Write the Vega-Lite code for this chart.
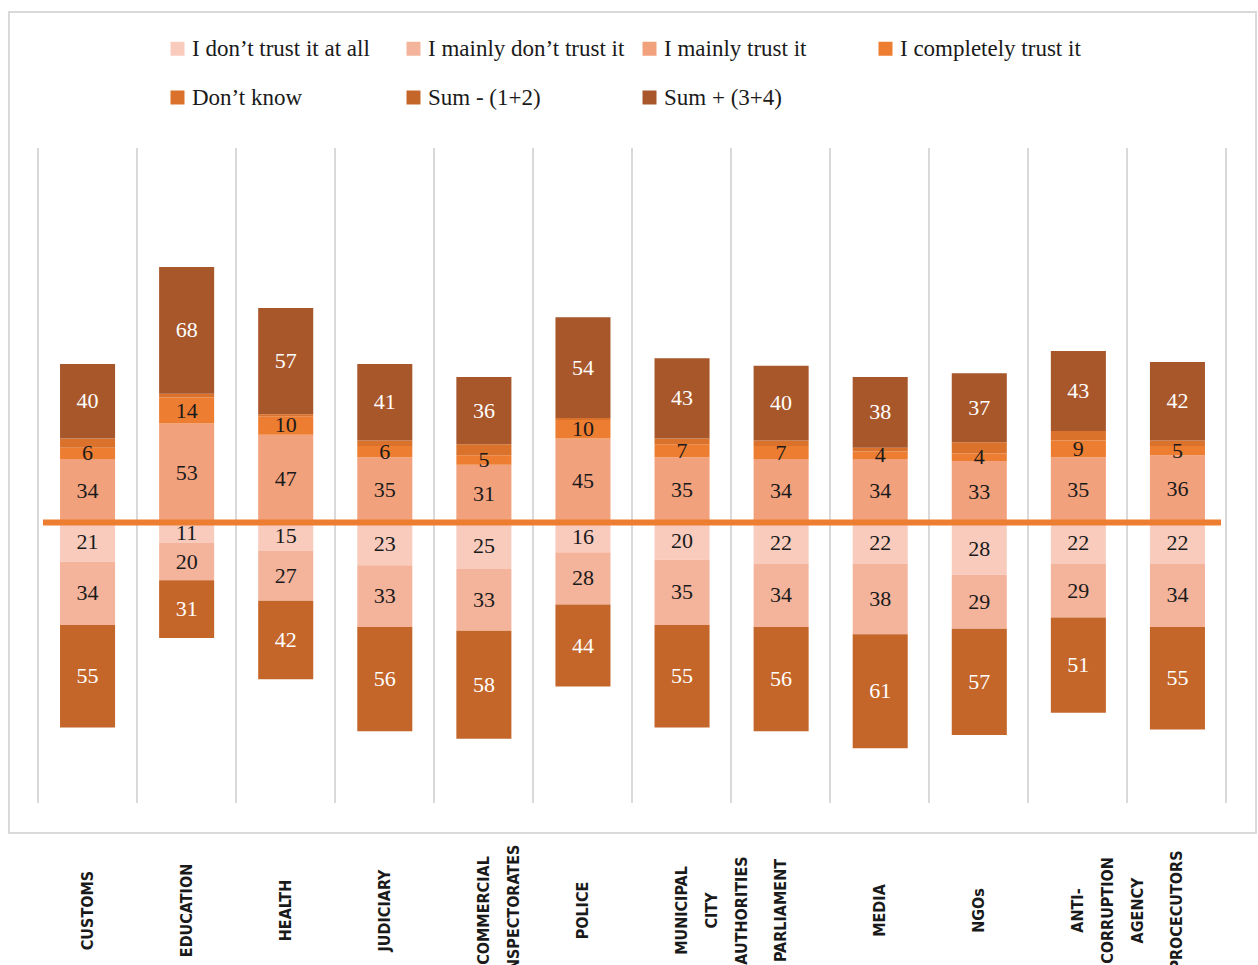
{
 "$schema": "https://vega.github.io/schema/vega-lite/v6.json",
 "width": 1247, "height": 821,
 "autosize": {"type": "none"},
 "padding": {"left": 9, "top": 12, "right": 2, "bottom": 132},
 "background": "white",
 "config": {"view": {"stroke": "#d9d9d9", "strokeWidth": 2}},
 "datasets": {
  "grid": [{"b":0},{"b":1},{"b":2},{"b":3},{"b":4},{"b":5},{"b":6},{"b":7},{"b":8},{"b":9},{"b":10},{"b":11},{"b":12}],
  "main": [
   {"cat":"CUSTOMS","s":"I don’t trust it at all","v":-21},
   {"cat":"CUSTOMS","s":"I mainly don’t trust it","v":-34},
   {"cat":"CUSTOMS","s":"I mainly trust it","v":34},
   {"cat":"CUSTOMS","s":"I completely trust it","v":6},
   {"cat":"CUSTOMS","s":"Don’t know","v":5},
   {"cat":"CUSTOMS","s":"Sum - (1+2)","v":-55},
   {"cat":"CUSTOMS","s":"Sum + (3+4)","v":40},
   {"cat":"EDUCATION","s":"I don’t trust it at all","v":-11},
   {"cat":"EDUCATION","s":"I mainly don’t trust it","v":-20},
   {"cat":"EDUCATION","s":"I mainly trust it","v":53},
   {"cat":"EDUCATION","s":"I completely trust it","v":14},
   {"cat":"EDUCATION","s":"Don’t know","v":2},
   {"cat":"EDUCATION","s":"Sum - (1+2)","v":-31},
   {"cat":"EDUCATION","s":"Sum + (3+4)","v":68},
   {"cat":"HEALTH","s":"I don’t trust it at all","v":-15},
   {"cat":"HEALTH","s":"I mainly don’t trust it","v":-27},
   {"cat":"HEALTH","s":"I mainly trust it","v":47},
   {"cat":"HEALTH","s":"I completely trust it","v":10},
   {"cat":"HEALTH","s":"Don’t know","v":1},
   {"cat":"HEALTH","s":"Sum - (1+2)","v":-42},
   {"cat":"HEALTH","s":"Sum + (3+4)","v":57},
   {"cat":"JUDICIARY","s":"I don’t trust it at all","v":-23},
   {"cat":"JUDICIARY","s":"I mainly don’t trust it","v":-33},
   {"cat":"JUDICIARY","s":"I mainly trust it","v":35},
   {"cat":"JUDICIARY","s":"I completely trust it","v":6},
   {"cat":"JUDICIARY","s":"Don’t know","v":3},
   {"cat":"JUDICIARY","s":"Sum - (1+2)","v":-56},
   {"cat":"JUDICIARY","s":"Sum + (3+4)","v":41},
   {"cat":"COMMERCIAL INSPECTORATES","s":"I don’t trust it at all","v":-25},
   {"cat":"COMMERCIAL INSPECTORATES","s":"I mainly don’t trust it","v":-33},
   {"cat":"COMMERCIAL INSPECTORATES","s":"I mainly trust it","v":31},
   {"cat":"COMMERCIAL INSPECTORATES","s":"I completely trust it","v":5},
   {"cat":"COMMERCIAL INSPECTORATES","s":"Don’t know","v":6},
   {"cat":"COMMERCIAL INSPECTORATES","s":"Sum - (1+2)","v":-58},
   {"cat":"COMMERCIAL INSPECTORATES","s":"Sum + (3+4)","v":36},
   {"cat":"POLICE","s":"I don’t trust it at all","v":-16},
   {"cat":"POLICE","s":"I mainly don’t trust it","v":-28},
   {"cat":"POLICE","s":"I mainly trust it","v":45},
   {"cat":"POLICE","s":"I completely trust it","v":10},
   {"cat":"POLICE","s":"Don’t know","v":1},
   {"cat":"POLICE","s":"Sum - (1+2)","v":-44},
   {"cat":"POLICE","s":"Sum + (3+4)","v":54},
   {"cat":"MUNICIPAL CITY AUTHORITIES","s":"I don’t trust it at all","v":-20},
   {"cat":"MUNICIPAL CITY AUTHORITIES","s":"I mainly don’t trust it","v":-35},
   {"cat":"MUNICIPAL CITY AUTHORITIES","s":"I mainly trust it","v":35},
   {"cat":"MUNICIPAL CITY AUTHORITIES","s":"I completely trust it","v":7},
   {"cat":"MUNICIPAL CITY AUTHORITIES","s":"Don’t know","v":3},
   {"cat":"MUNICIPAL CITY AUTHORITIES","s":"Sum - (1+2)","v":-55},
   {"cat":"MUNICIPAL CITY AUTHORITIES","s":"Sum + (3+4)","v":43},
   {"cat":"PARLIAMENT","s":"I don’t trust it at all","v":-22},
   {"cat":"PARLIAMENT","s":"I mainly don’t trust it","v":-34},
   {"cat":"PARLIAMENT","s":"I mainly trust it","v":34},
   {"cat":"PARLIAMENT","s":"I completely trust it","v":7},
   {"cat":"PARLIAMENT","s":"Don’t know","v":3},
   {"cat":"PARLIAMENT","s":"Sum - (1+2)","v":-56},
   {"cat":"PARLIAMENT","s":"Sum + (3+4)","v":40},
   {"cat":"MEDIA","s":"I don’t trust it at all","v":-22},
   {"cat":"MEDIA","s":"I mainly don’t trust it","v":-38},
   {"cat":"MEDIA","s":"I mainly trust it","v":34},
   {"cat":"MEDIA","s":"I completely trust it","v":4},
   {"cat":"MEDIA","s":"Don’t know","v":2},
   {"cat":"MEDIA","s":"Sum - (1+2)","v":-61},
   {"cat":"MEDIA","s":"Sum + (3+4)","v":38},
   {"cat":"NGOs","s":"I don’t trust it at all","v":-28},
   {"cat":"NGOs","s":"I mainly don’t trust it","v":-29},
   {"cat":"NGOs","s":"I mainly trust it","v":33},
   {"cat":"NGOs","s":"I completely trust it","v":4},
   {"cat":"NGOs","s":"Don’t know","v":6},
   {"cat":"NGOs","s":"Sum - (1+2)","v":-57},
   {"cat":"NGOs","s":"Sum + (3+4)","v":37},
   {"cat":"ANTI-CORRUPTION AGENCY","s":"I don’t trust it at all","v":-22},
   {"cat":"ANTI-CORRUPTION AGENCY","s":"I mainly don’t trust it","v":-29},
   {"cat":"ANTI-CORRUPTION AGENCY","s":"I mainly trust it","v":35},
   {"cat":"ANTI-CORRUPTION AGENCY","s":"I completely trust it","v":9},
   {"cat":"ANTI-CORRUPTION AGENCY","s":"Don’t know","v":5},
   {"cat":"ANTI-CORRUPTION AGENCY","s":"Sum - (1+2)","v":-51},
   {"cat":"ANTI-CORRUPTION AGENCY","s":"Sum + (3+4)","v":43},
   {"cat":"PROCECUTORS","s":"I don’t trust it at all","v":-22},
   {"cat":"PROCECUTORS","s":"I mainly don’t trust it","v":-34},
   {"cat":"PROCECUTORS","s":"I mainly trust it","v":36},
   {"cat":"PROCECUTORS","s":"I completely trust it","v":5},
   {"cat":"PROCECUTORS","s":"Don’t know","v":3},
   {"cat":"PROCECUTORS","s":"Sum - (1+2)","v":-55},
   {"cat":"PROCECUTORS","s":"Sum + (3+4)","v":42}
  ]
 },
 "layer": [
  {
   "data": {"name": "grid"},
   "mark": {"type": "rule", "color": "#d9d9d9", "strokeWidth": 2},
   "encoding": {
    "x": {"field": "b", "type": "quantitative", "scale": {"domain": [-0.2929, 12.303], "nice": false, "zero": false}, "axis": null},
    "y": {"datum": 200.8, "type": "quantitative", "scale": {"domain": [-166.5, 273.7], "nice": false, "zero": false}, "axis": null},
    "y2": {"datum": -150.4}
   }
  },
  {
   "data": {"name": "main"},
   "transform": [
    {"calculate": "indexof(['I don’t trust it at all','I mainly don’t trust it','Sum - (1+2)','I mainly trust it','I completely trust it','Don’t know','Sum + (3+4)'], datum.s)", "as": "ord"},
    {"stack": "v", "groupby": ["cat"], "sort": [{"field": "ord", "order": "ascending"}], "as": ["y0", "y1"], "offset": "zero"}
   ],
   "mark": {"type": "bar"},
   "encoding": {
    "x": {"field": "cat", "type": "nominal", "sort": null,
     "scale": {"type": "band", "paddingInner": 0.4444, "paddingOuter": 0.515},
     "axis": {"title": null, "domain": false, "ticks": false, "grid": false, "labelAngle": 270, "labelAlign": "center", "labelBaseline": "middle", "labelPadding": 77, "labelFont": "DejaVu Sans Condensed", "labelFontWeight": "bold", "labelFontSize": 16, "labelLineHeight": 30, "labelColor": "#1a1a1a", "labelLimit": 0, "labelOverlap": false,
      "labelExpr": "split(replace(datum.label, '-', '- '), ' ')"}},
    "y": {"field": "y0", "type": "quantitative", "scale": {"domain": [-166.5, 273.7], "nice": false, "zero": false}, "axis": null},
    "y2": {"field": "y1"},
    "color": {"field": "s", "type": "nominal",
     "scale": {"domain": ["I don’t trust it at all","I mainly don’t trust it","I mainly trust it","I completely trust it","Don’t know","Sum - (1+2)","Sum + (3+4)"],
       "range": ["#F8CBBD","#F4B49C","#F2A17D","#ED7D31","#DA722C","#C4662A","#A8572A"]},
     "legend": {"title": null, "orient": "none", "legendX": 157, "legendY": 25, "direction": "horizontal", "columns": 4, "gridAlign": "all", "columnPadding": 13, "rowPadding": 25, "padding": 0, "symbolType": "square", "symbolSize": 196, "symbolStrokeWidth": 0, "labelFont": "Liberation Serif", "labelFontSize": 23, "labelColor": "#1a1a1a", "labelOffset": 3, "labelLimit": 400}}
   }
  },
  {
   "data": {"values": [{}]},
   "mark": {"type": "rule", "color": "#ED7D31", "strokeWidth": 6},
   "encoding": {
    "x": {"datum": 0.05, "type": "quantitative", "scale": {"domain": [-0.2929, 12.303], "nice": false, "zero": false}, "axis": null},
    "x2": {"datum": 11.95},
    "y": {"datum": 0, "type": "quantitative", "scale": {"domain": [-166.5, 273.7], "nice": false, "zero": false}, "axis": null}
   }
  },
  {
   "data": {"name": "main"},
   "transform": [
    {"calculate": "indexof(['I don’t trust it at all','I mainly don’t trust it','Sum - (1+2)','I mainly trust it','I completely trust it','Don’t know','Sum + (3+4)'], datum.s)", "as": "ord"},
    {"stack": "v", "groupby": ["cat"], "sort": [{"field": "ord", "order": "ascending"}], "as": ["y0", "y1"], "offset": "zero"},
    {"filter": "datum.s !== 'Don’t know'"},
    {"calculate": "(datum.y0 + datum.y1) / 2", "as": "ym"},
    {"calculate": "abs(datum.v)", "as": "lab"}
   ],
   "mark": {"type": "text", "font": "Liberation Serif", "fontSize": 22, "align": "center", "baseline": "middle"},
   "encoding": {
    "x": {"field": "cat", "type": "nominal", "sort": null, "scale": {"type": "band", "paddingInner": 0.4444, "paddingOuter": 0.515}, "axis": null},
    "y": {"field": "ym", "type": "quantitative", "scale": {"domain": [-166.5, 273.7], "nice": false, "zero": false}, "axis": null},
    "text": {"field": "lab", "type": "quantitative"},
    "color": {"condition": {"test": "datum.s === 'Sum - (1+2)' || datum.s === 'Sum + (3+4)'", "value": "#ffffff"}, "value": "#1a1a1a"}
   }
  }
 ],
 "resolve": {"scale": {"x": "independent"}}
}
